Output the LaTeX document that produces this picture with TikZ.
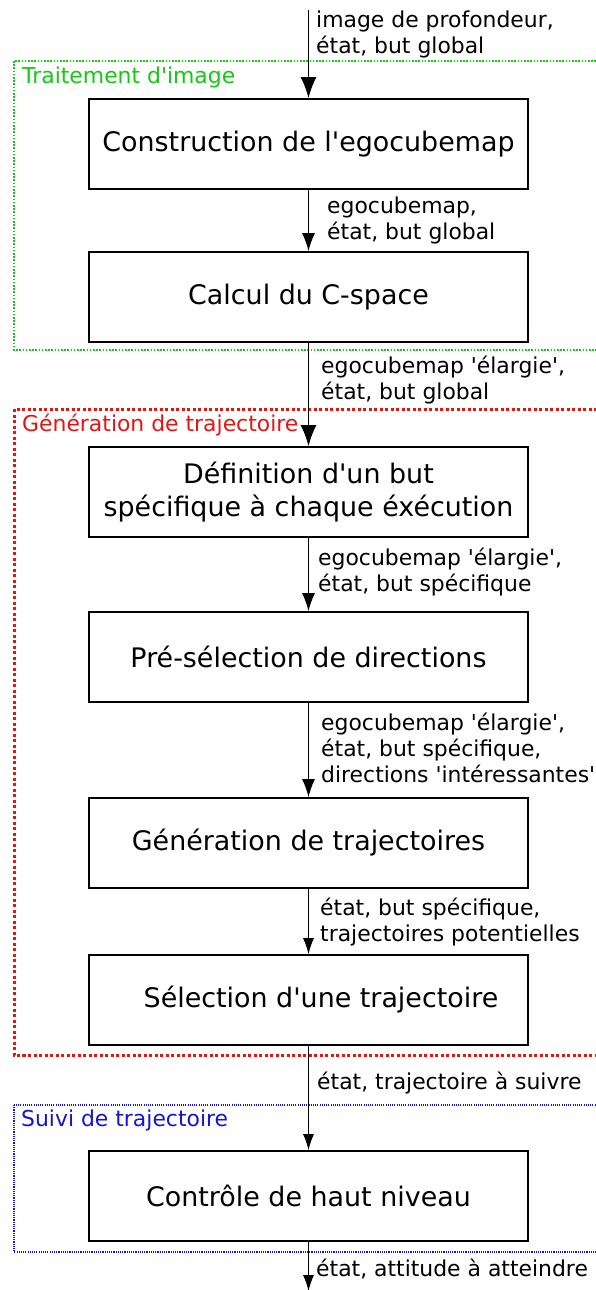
\documentclass[tikz,border=0pt]{standalone}
\usepackage{fontspec}
\setmainfont{DejaVu Sans}
\usetikzlibrary{arrows.meta}
\definecolor{grpgreen}{RGB}{20,200,20}
\definecolor{grpred}{RGB}{230,20,20}
\definecolor{grpblue}{RGB}{20,20,210}
\newcommand\ap{\textquotesingle}
\tikzset{
  stage/.style={draw, line width=1.8pt, minimum width=439pt, minimum height=90pt,
    inner sep=0pt, align=center, font=\fontsize{26.9}{33}\selectfont},
  flowlabel/.style={anchor=west, inner sep=0pt, align=left,
    font=\fontsize{21.9}{26}\selectfont},
  grouplabel/.style={anchor=west, inner sep=0pt, font=\fontsize{21.9}{26}\selectfont},
  bigflow/.style={line width=1.4pt, -{Latex[length=21pt,width=16pt]}},
  flow/.style={line width=1.2pt, -{Latex[length=18pt,width=13pt]}},
  thinflow/.style={line width=1pt, -{Latex[length=16pt,width=11pt]}},
}
\begin{document}
\begin{tikzpicture}[x=1pt,y=-1pt]
\useasboundingbox (0,0) rectangle (595,1290);

% group frames
\draw[grpgreen, line width=1.6pt, dash pattern=on 1.6pt off 1.6pt] (14,61) rectangle (600,350);
\draw[grpred, line width=3pt, dash pattern=on 3pt off 2.5pt] (14,409) rectangle (600,1055);
\draw[grpblue, line width=1.1pt, dash pattern=on 1.1pt off 1.1pt] (14,1105) rectangle (600,1252);
\node[grouplabel, text=grpgreen] (gimg) at (22,77) {Traitement d\ap image};
\node[grouplabel, text=grpred] (gtraj) at (22,425) {Génération de trajectoire};
\node[grouplabel, text=grpblue] (gsuivi) at (21,1120) {Suivi de trajectoire};

% stages
\node[stage] (s1) at (308.5,144) {Construction de l\ap egocubemap};
\node[stage] (s2) at (308.5,297) {Calcul du C-space};
\node[stage] (s3) at (308.5,492) {Définition d\ap un but\\spécifique à chaque éxécution};
\node[stage] (s4) at (308.5,657) {Pré-sélection de directions};
\node[stage] (s5) at (308.5,843) {Génération de trajectoires};
\node[stage] (s6) at (308.5,1000) {\hspace*{25pt}Sélection d\ap une trajectoire};
\node[stage] (s7) at (308.5,1196) {Contrôle de haut niveau};

\coordinate (in) at (308.5,10);
\coordinate (out) at (308.5,1291);

% connectors
\draw[bigflow] (in) -- (s1.north);
\draw[flow] (s1.south) -- (s2.north);
\draw[bigflow] (s2.south) -- (s3.north);
\draw[flow] (s3.south) -- (s4.north);
\draw[flow] (s4.south) -- (s5.north);
\draw[thinflow] (s5.south) -- (s6.north);
\draw[thinflow] (s6.south) -- (s7.north);
\draw[thinflow] (s7.south) -- (out);

% data passed between stages
\node[flowlabel] (l1) at (316,34) {image de profondeur,\\état, but global};
\node[flowlabel] (l2) at (327,220) {egocubemap,\\état, but global};
\node[flowlabel] (l3) at (321,380) {egocubemap \ap élargie\ap,\\état, but global};
\node[flowlabel] (l4) at (318,572) {egocubemap \ap élargie\ap,\\état, but spécifique};
\node[flowlabel] (l5) at (321,748) {egocubemap \ap élargie\ap,\\état, but spécifique,\\directions \ap intéressantes\ap};
\node[flowlabel] (l6) at (320,922) {état, but spécifique,\\trajectoires potentielles};
\node[flowlabel] (l7) at (317,1083) {état, trajectoire à suivre};
\node[flowlabel] (l8) at (316,1269) {état, attitude à atteindre};
\end{tikzpicture}
\end{document}
